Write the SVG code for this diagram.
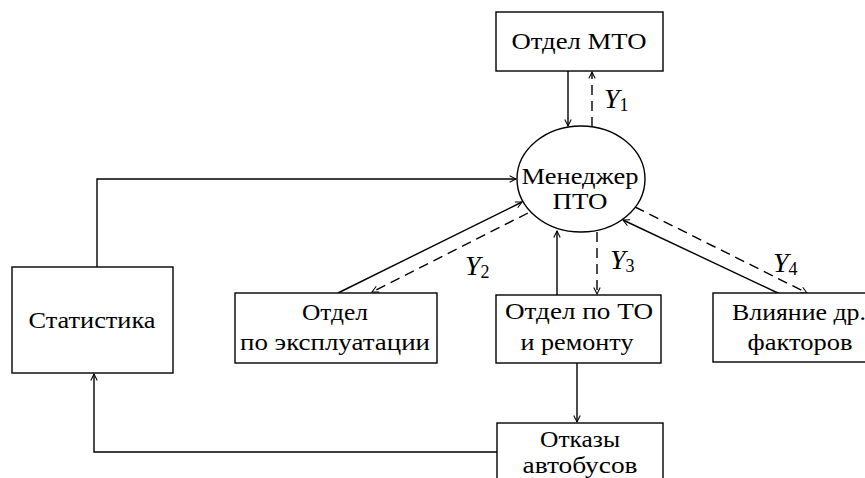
<svg xmlns="http://www.w3.org/2000/svg" width="865" height="478" viewBox="0 0 865 478">
<style>
.box{fill:#fff;stroke:#000;stroke-width:1.4}
.t{font-family:"Liberation Serif","DejaVu Serif","Times New Roman",serif;font-size:23px;fill:#000;text-anchor:middle}
.c{fill:none;stroke:#000;stroke-width:1.4}
.d{fill:none;stroke:#000;stroke-width:1.4;stroke-dasharray:10 6}
.y{font-family:"Liberation Serif","DejaVu Serif","Times New Roman",serif;font-size:28px;font-style:italic;fill:#000}
.s{font-size:18px;font-style:normal}
</style>
<defs>
<marker id="a" viewBox="0 0 10 10" refX="9" refY="5" markerWidth="8" markerHeight="8" markerUnits="userSpaceOnUse" orient="auto">
<path d="M1,1 L9,5 L1,9" fill="none" stroke="#000" stroke-width="1.3"/>
</marker>
</defs>
<rect width="865" height="478" fill="#fff"/>
<g id="connectors">
<line class="c" x1="568" y1="71" x2="568" y2="126" marker-end="url(#a)"/>
<line class="d" x1="592" y1="127" x2="592" y2="72" marker-end="url(#a)"/>
<path class="c" d="M97,267 V179 H516" marker-end="url(#a)"/>
<line class="c" x1="338" y1="293" x2="522" y2="202" marker-end="url(#a)"/>
<line class="d" x1="528" y1="213" x2="372" y2="292" marker-end="url(#a)"/>
<line class="c" x1="557" y1="295" x2="557" y2="231" marker-end="url(#a)"/>
<line class="d" x1="597" y1="232" x2="597" y2="294" marker-end="url(#a)"/>
<line class="c" x1="780" y1="294" x2="623" y2="220" marker-end="url(#a)"/>
<line class="d" x1="635" y1="207" x2="807" y2="293" marker-end="url(#a)"/>
<line class="c" x1="577" y1="363" x2="577" y2="422" marker-end="url(#a)"/>
<path class="c" d="M497,452 H94 V374" marker-end="url(#a)"/>
<text class="y" x="604" y="108">Y<tspan class="s" dy="3">1</tspan></text>
<text class="y" x="465" y="275">Y<tspan class="s" dy="3">2</tspan></text>
<text class="y" x="610" y="269">Y<tspan class="s" dy="3">3</tspan></text>
<text class="y" x="773" y="272">Y<tspan class="s" dy="3">4</tspan></text>
</g>
<g id="mto">
<rect class="box" x="496" y="12" width="167" height="59"/>
<text class="t" x="579" y="49" textLength="135" lengthAdjust="spacingAndGlyphs">Отдел МТО</text>
</g>
<g id="manager">
<ellipse cx="581" cy="179" rx="64" ry="53" fill="#fff" stroke="#000" stroke-width="1.4"/>
<text class="t" x="580" y="184" textLength="117" lengthAdjust="spacingAndGlyphs">Менеджер</text>
<text class="t" x="580" y="209" textLength="55" lengthAdjust="spacingAndGlyphs">ПТО</text>
</g>
<g id="stat">
<rect class="box" x="12" y="267" width="161" height="106"/>
<text class="t" x="92" y="328" textLength="127" lengthAdjust="spacingAndGlyphs">Статистика</text>
</g>
<g id="expl">
<rect class="box" x="235" y="293" width="202" height="70"/>
<text class="t" x="335" y="320" textLength="66" lengthAdjust="spacingAndGlyphs">Отдел</text>
<text class="t" x="335" y="350" textLength="190" lengthAdjust="spacingAndGlyphs">по эксплуатации</text>
</g>
<g id="to">
<rect class="box" x="496" y="295" width="165" height="68"/>
<text class="t" x="579" y="319" textLength="148" lengthAdjust="spacingAndGlyphs">Отдел по ТО</text>
<text class="t" x="577" y="350" textLength="113" lengthAdjust="spacingAndGlyphs">и ремонту</text>
</g>
<g id="other">
<rect class="box" x="713" y="293" width="175" height="69"/>
<text class="t" x="799" y="320" textLength="134" lengthAdjust="spacingAndGlyphs">Влияние др.</text>
<text class="t" x="800" y="350" textLength="105" lengthAdjust="spacingAndGlyphs">факторов</text>
</g>
<g id="fail">
<rect class="box" x="497" y="423" width="166" height="70"/>
<text class="t" x="580" y="447" textLength="80" lengthAdjust="spacingAndGlyphs">Отказы</text>
<text class="t" x="580" y="473" textLength="115" lengthAdjust="spacingAndGlyphs">автобусов</text>
</g>
</svg>
